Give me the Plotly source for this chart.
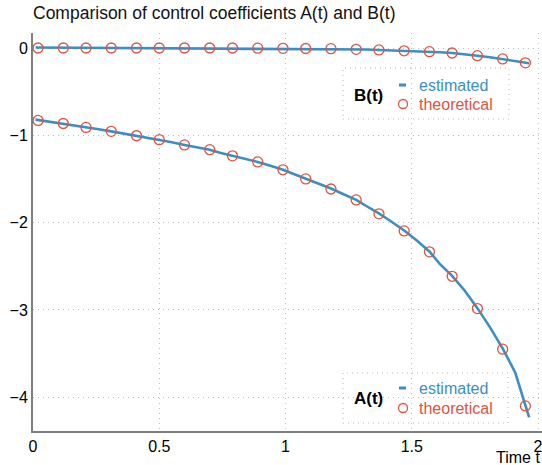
import plotly.graph_objects as go

# ---- data ----
t_theory = [0.02, 0.12, 0.21, 0.31, 0.41, 0.50, 0.60, 0.70, 0.79, 0.89, 0.99,
            1.08, 1.18, 1.28, 1.37, 1.47, 1.57, 1.66, 1.76, 1.86, 1.95]
A_theory = [-0.83, -0.865, -0.91, -0.955, -1.005, -1.05, -1.11, -1.165, -1.235,
            -1.305, -1.395, -1.50, -1.615, -1.74, -1.90, -2.095, -2.335, -2.615,
            -2.985, -3.45, -4.10]
B_theory = [0.0, 0.0, 0.0, 0.0, 0.0, 0.0, 0.0, 0.0, 0.0, -0.002, -0.004,
            -0.006, -0.008, -0.015, -0.022, -0.032, -0.042, -0.057, -0.088,
            -0.125, -0.17]

t_est = [0.01, 0.07, 0.12, 0.17, 0.21, 0.26, 0.31, 0.36, 0.41, 0.45, 0.50,
         0.55, 0.60, 0.65, 0.70, 0.74, 0.79, 0.84, 0.89, 0.94, 0.99, 1.03,
         1.08, 1.13, 1.18, 1.23, 1.28, 1.32, 1.37, 1.42, 1.47, 1.52, 1.57,
         1.61, 1.66, 1.71, 1.76, 1.81, 1.86, 1.91, 1.965]
A_est = [-0.82, -0.845, -0.87, -0.885, -0.905, -0.93, -0.955, -0.98, -1.005,
         -1.03, -1.05, -1.08, -1.11, -1.135, -1.165, -1.20, -1.235, -1.27,
         -1.305, -1.35, -1.395, -1.44, -1.495, -1.55, -1.61, -1.675, -1.74,
         -1.81, -1.895, -1.99, -2.09, -2.205, -2.33, -2.47, -2.61, -2.78,
         -2.98, -3.20, -3.44, -3.72, -4.23]
B_est = [0.005, 0.004, 0.003, 0.003, 0.002, 0.002, 0.001, 0.001, 0.0, 0.0,
         0.0, 0.0, 0.0, -0.001, -0.001, -0.002, -0.002, -0.003, -0.003,
         -0.004, -0.005, -0.006, -0.007, -0.008, -0.009, -0.011, -0.014,
         -0.018, -0.023, -0.027, -0.032, -0.037, -0.042, -0.048, -0.057,
         -0.07, -0.088, -0.105, -0.125, -0.148, -0.175]

x_ticks = [0, 0.5, 1, 1.5, 2]
x_ticktext = ["0", "0.5", "1", "1.5", "2"]
y_ticks = [0, -1, -2, -3, -4]

BLUE = "#3a8fc7"
RED = "#e0533d"
FONT = "Liberation Sans, Arial, sans-serif"

fig = go.Figure()
for y in (A_est, B_est):
    fig.add_trace(go.Scatter(x=t_est, y=y, mode="lines",
                             line=dict(color=BLUE, width=2.6),
                             showlegend=False, hoverinfo="skip"))
for y in (A_theory, B_theory):
    fig.add_trace(go.Scatter(x=t_theory, y=y, mode="markers",
                             marker=dict(symbol="circle-open", size=10,
                                         color=RED, line=dict(width=1.3, color=RED)),
                             showlegend=False))

W, H = 542, 465
L, R, T, B = 33, 0, 33, 34
pw, ph = W - L - R, H - T - B


def px(x):
    return (x - L) / pw


def py(y):
    return (H - B - y) / ph


shapes = []
annotations = []


def legend_box(label, x0, x1, ytop, ybot, ylab, yest, ytheo):
    shapes.append(dict(type="rect", xref="paper", yref="paper",
                       x0=px(x0), x1=px(x1), y0=py(ybot), y1=py(ytop),
                       line=dict(color="#b4b4b4", width=1, dash="1px,4px"),
                       fillcolor="rgba(0,0,0,0)", layer="below"))
    shapes.append(dict(type="line", xref="paper", yref="paper",
                       x0=px(399), x1=px(406), y0=py(yest), y1=py(yest),
                       line=dict(color=BLUE, width=3)))
    shapes.append(dict(type="circle", xref="paper", yref="paper",
                       x0=px(398.5), x1=px(407.5), y0=py(ytheo + 4.5), y1=py(ytheo - 4.5),
                       line=dict(color=RED, width=1.3)))
    annotations.append(dict(text="<b>%s</b>" % label, xref="paper", yref="paper",
                            x=px(368), y=py(ylab), xanchor="center", yanchor="middle",
                            showarrow=False, font=dict(family=FONT, size=17, color="#000")))
    annotations.append(dict(text="estimated", xref="paper", yref="paper",
                            x=px(417), y=py(yest), xanchor="left", yanchor="middle",
                            showarrow=False, font=dict(family=FONT, size=16, color=BLUE)))
    annotations.append(dict(text="theoretical", xref="paper", yref="paper",
                            x=px(417), y=py(ytheo), xanchor="left", yanchor="middle",
                            showarrow=False, font=dict(family=FONT, size=16, color=RED)))


legend_box("B(t)", 343, 509, 68, 119, 95, 85, 104)
legend_box("A(t)", 343, 508, 373, 423, 398, 388, 408)

annotations.append(dict(text="Time t", xref="paper", yref="paper",
                        x=1.0, y=py(457), xanchor="right", yanchor="middle",
                        showarrow=False, font=dict(family=FONT, size=16, color="#000")))

fig.update_layout(
    width=W, height=H,
    margin=dict(l=L, r=R, t=T, b=B, pad=0, autoexpand=False),
    paper_bgcolor="white", plot_bgcolor="white",
    title=dict(text="Comparison of control coefficients A(t) and B(t)",
               x=px(33), xref="paper", xanchor="left",
               y=1 - 13 / H, yref="container", yanchor="middle",
               font=dict(family=FONT, size=17.5, color="#111"),
               automargin=False),
    shapes=shapes, annotations=annotations,
    font=dict(family=FONT, size=16, color="#000"),
)
fig.update_xaxes(range=[0, pw / 252.5], tickvals=x_ticks, ticktext=x_ticktext,
                 showgrid=True, gridcolor="#bdbdbd", griddash="1px,4px", gridwidth=1,
                 zeroline=False, showline=True, linecolor="#7f7f7f", linewidth=2,
                 ticks="", automargin=False, ticklabeloverflow="allow",
                 tickfont=dict(family=FONT, size=16, color="#000"))
fig.update_yaxes(range=[-(H - B - 48) / 87.3, (48 - T) / 87.3], tickvals=y_ticks,
                 showgrid=True, gridcolor="#bdbdbd", griddash="1px,4px", gridwidth=1,
                 zeroline=False, showline=True, linecolor="#7f7f7f", linewidth=2,
                 ticks="", automargin=False, ticklabeloverflow="allow",
                 tickfont=dict(family=FONT, size=16, color="#000"))

fig.write_html("out.html", config={"displayModeBar": False},
               post_script="document.body.style.margin='0';document.body.style.padding='0';")
